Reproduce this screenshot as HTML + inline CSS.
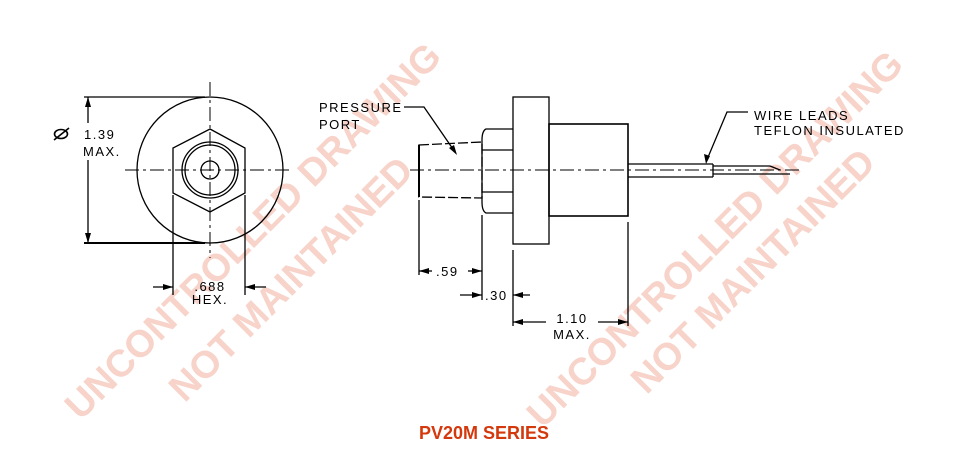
<!DOCTYPE html>
<html><head><style>body{margin:0;background:#fff}svg{display:block}</style></head><body>
<svg width="955" height="476" viewBox="0 0 955 476" xmlns="http://www.w3.org/2000/svg">
<g font-family="Liberation Sans, sans-serif" font-weight="bold" font-size="38" fill="#f7d3ca" text-anchor="middle">
<text transform="translate(262,240) rotate(-45)">UNCONTROLLED DRAWING</text>
<text transform="translate(300,288) rotate(-45)">NOT MAINTAINED</text>
<text transform="translate(724,248) rotate(-45)">UNCONTROLLED DRAWING</text>
<text transform="translate(762,280) rotate(-45)">NOT MAINTAINED</text>
</g>
<g fill="none" stroke="#000" stroke-width="1.3">
<circle cx="210" cy="170" r="73"/>
<polygon points="210,129 245,148 245,193 210,212 173,193 173,148"/>
<circle cx="210" cy="170" r="28"/>
<circle cx="210" cy="170" r="25"/>
<circle cx="210" cy="170" r="9"/>
<line x1="125" y1="170" x2="292" y2="170" stroke-dasharray="14,4,3,4" stroke-width="1"/>
<line x1="210" y1="82" x2="210" y2="258" stroke-dasharray="14,4,3,4" stroke-width="1"/>
<line x1="84" y1="97" x2="205" y2="97"/>
<line x1="84" y1="243" x2="205" y2="243" stroke-width="2"/>
<line x1="88" y1="97" x2="88" y2="123"/>
<line x1="88" y1="160" x2="88" y2="243"/>
<line x1="173" y1="195" x2="173" y2="295"/>
<line x1="245" y1="195" x2="245" y2="295"/>
<line x1="153" y1="287" x2="173" y2="287"/>
<line x1="245" y1="287" x2="266" y2="287"/>
<ellipse cx="61" cy="134" rx="6.5" ry="4.5" stroke-width="1.6"/>
<line x1="54" y1="140" x2="69" y2="128" stroke-width="1.6"/>
<path d="M419,145 L482,142 L482,198 L419,197 Z" stroke-dasharray="10,3"/>
<line x1="419" y1="145" x2="419" y2="197" stroke-width="2"/>
<path d="M513,129 L486,129 Q482,131 482,140 L482,202 Q482,211 486,213 L513,213"/>
<line x1="482" y1="150" x2="513" y2="150"/>
<line x1="482" y1="192" x2="513" y2="192"/>
<rect x="513" y="97" width="36" height="147"/>
<rect x="549" y="124" width="79" height="92" stroke-width="1.6"/>
<line x1="410" y1="170" x2="800" y2="170" stroke-dasharray="14,4,3,4" stroke-width="1"/>
<line x1="628" y1="164" x2="713" y2="164"/>
<line x1="628" y1="177" x2="713" y2="177"/>
<line x1="713" y1="164" x2="713" y2="177"/>
<line x1="713" y1="166" x2="770" y2="166"/>
<line x1="713" y1="174" x2="790" y2="174"/>
<line x1="770" y1="166" x2="780" y2="170"/>
<polyline points="706,162 727,112 748,112"/>
<polyline points="404,107 424,107 455,152"/>
<line x1="419" y1="200" x2="419" y2="275"/>
<line x1="482" y1="215" x2="482" y2="300"/>
<line x1="513" y1="250" x2="513" y2="326"/>
<line x1="628" y1="222" x2="628" y2="326"/>
<line x1="419" y1="271" x2="432" y2="271"/>
<line x1="468" y1="271" x2="482" y2="271"/>
<line x1="460" y1="295" x2="482" y2="295"/>
<line x1="513" y1="295" x2="530" y2="295"/>
<line x1="513" y1="322" x2="546" y2="322"/>
<line x1="598" y1="322" x2="628" y2="322"/>
</g>
<g fill="#000">
<polygon points="88,97 85,107 91,107"/><polygon points="88,243 85,233 91,233"/>
<polygon points="173,287 163,284 163,290"/><polygon points="245,287 255,284 255,290"/>
<polygon points="419,271 429,268 429,274"/><polygon points="482,271 472,268 472,274"/>
<polygon points="482,295 472,292 472,298"/><polygon points="513,295 523,292 523,298"/>
<polygon points="513,322 523,319 523,325"/><polygon points="628,322 618,319 618,325"/>
<polygon points="706,164 704,154 710,156"/><polygon points="457,155 449,148 454,145"/>
</g>
<g font-family="Liberation Sans, sans-serif" font-size="13" fill="#000" letter-spacing="1.5">
<text x="84" y="139">1.39</text>
<text x="83" y="156">MAX.</text>
<text x="210" y="291" text-anchor="middle">.688</text>
<text x="210" y="304" text-anchor="middle">HEX.</text>
<text x="319" y="112">PRESSURE</text>
<text x="319" y="129">PORT</text>
<text x="754" y="120">WIRE LEADS</text>
<text x="754" y="135">TEFLON INSULATED</text>
<text x="436" y="276">.59</text>
<text x="485" y="300">.30</text>
<text x="572" y="323" text-anchor="middle">1.10</text>
<text x="572" y="339" text-anchor="middle">MAX.</text>
</g>
<text x="484" y="439" text-anchor="middle" font-family="Liberation Sans, sans-serif" font-weight="bold" font-size="18" fill="#d4380d">PV20M SERIES</text>
</svg>
</body></html>
